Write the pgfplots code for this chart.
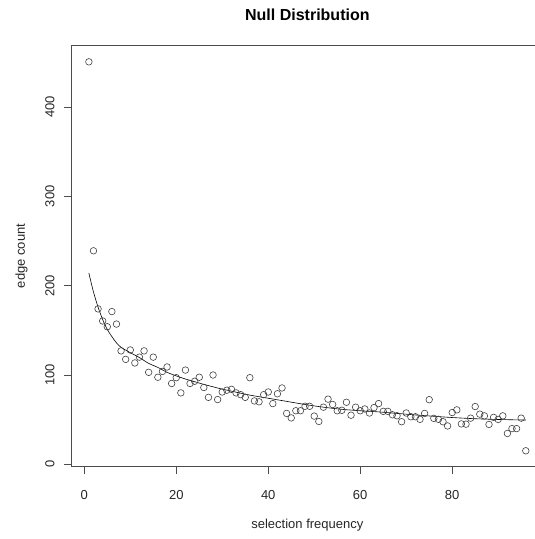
\documentclass[border=0pt]{standalone}
\usepackage{fontspec}
\setmainfont{Liberation Sans}
\usepackage{pgfplots}
\pgfplotsset{compat=1.18}
\usepackage{pgfplotstable}

\pgfplotstableread{
x y
1 450.5
2 239
3 174
4 160.5
5 154
6 171
7 157
8 127
9 117.5
10 128
11 113.5
12 120
13 127
14 103
15 120
16 97.5
17 104
18 109
19 90.5
20 97
21 80
22 105.5
23 90.5
24 93
25 97.5
26 86
27 75
28 100
29 72.5
30 81
31 83
32 84
33 80
34 78
35 75
36 97
37 71
38 70
39 78
40 81
41 68
42 79
43 85.5
44 57
45 52
46 60
47 60
48 65
49 65
50 54
51 48
52 64
53 73
54 67
55 60
56 60.5
57 69.5
58 55
59 64
60 60
61 62
62 57.5
63 63.5
64 68
65 59.3
66 59.3
67 55.5
68 54.4
69 47.7
70 57.5
71 53.3
72 53.3
73 50.4
74 57
75 72.4
76 51.5
77 50.4
78 47.7
79 43
80 58
81 61
82 45.3
83 45
84 51.7
85 64.7
86 56.2
87 54.3
88 44.7
89 52.6
90 50.3
91 54.3
92 34.6
93 40
94 40
95 51.7
96 15.2
}\pointsdata

\pgfplotstableread{
x y
1 214
2 193
3 176
4 162
5 151
6 143
7 136
8 131
10 125
12 119.5
14 113
16 108.5
18 103
20 99
22 95.5
24 92.5
26 89.5
28 86.8
30 84.2
33 80.8
36 77.5
40 74
44 70.5
48 67
52 64
56 61.6
60 60
64 58.7
68 57
72 55.3
76 53.8
80 52.4
84 51.3
88 50.5
92 50
96 49.6
}\curvedata

\begin{document}
\begin{tikzpicture}
\begin{axis}[
  scale only axis,
  width=463.6pt, height=421.2pt,
  xmin=-2.8, xmax=98.0,
  ymin=-2.4, ymax=469,
  axis x line*=bottom, axis y line*=left,
  axis line style={black!70, line width=0.75pt},
  clip=false,
  xtick={0,20,40,60,80},
  ytick={0,100,200,300,400},
  tick align=outside,
  major tick length=7pt,
  tick style={black!70, line width=0.75pt},
  minor tick num=0,
  /pgf/number format/assume math mode=true,
  tick label style={font=\fontsize{13}{15}\selectfont, text=black!85},
  xticklabel style={anchor=base, inner sep=0pt, yshift=-25.5pt},
  yticklabel style={xshift=-10pt, rotate=90, anchor=base, inner sep=0pt},
  title={Null Distribution},
  title style={at={(axis description cs:0.509,1)}, anchor=base, yshift=19pt, font=\bfseries\fontsize{16}{19}\selectfont, inner sep=0pt},
  xlabel={selection frequency},
  xlabel style={at={(axis description cs:0.509,0)}, anchor=base, yshift=-62pt, font=\fontsize{13}{15}\selectfont, text=black!85, inner sep=0pt},
  ylabel={edge count},
  ylabel style={at={([xshift=-46.5pt]axis description cs:0,0.5)}, anchor=base, rotate=0, font=\fontsize{13}{15}\selectfont, text=black!85, inner sep=0pt},
]
\coordinate (bl) at (rel axis cs:0,0);
\coordinate (tr) at (rel axis cs:1,1);
\draw[black!70, line width=0.75pt] (rel axis cs:0,1) -- (rel axis cs:1,1);
\addplot[only marks, mark=o, mark size=3.3pt, black!75, mark options={line width=0.6pt}] table[x=x,y=y] {\pointsdata};
\addplot[black, line width=0.6pt, smooth, no marks] table[x=x,y=y] {\curvedata};
\end{axis}
\pgfresetboundingbox
\path[use as bounding box] ([xshift=-71.4pt,yshift=-72.5pt]bl) rectangle ([yshift=45.3pt]tr);
\end{tikzpicture}
\end{document}
